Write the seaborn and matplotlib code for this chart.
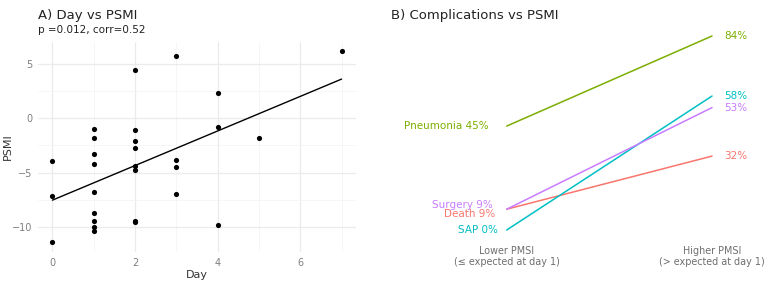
import numpy as np
import pandas as pd
import matplotlib
matplotlib.use("Agg")
import matplotlib.pyplot as plt
import seaborn as sns

# ---- Panel A data ----
day = [0, 0, 0,
       1, 1, 1, 1, 1, 1, 1, 1, 1,
       2, 2, 2, 2, 2, 2, 2, 2,
       3, 3, 3, 3,
       4, 4, 4,
       5, 7]
psmi = [-3.9, -7.15, -11.45,
        -1.0, -1.8, -3.3, -4.2, -6.8, -8.75, -9.5, -10.0, -10.4,
        4.45, -1.08, -2.1, -2.77, -4.4, -4.77, -9.5, -9.6,
        5.75, -3.85, -4.52, -6.96,
        2.33, -0.82, -9.82,
        -1.79, 6.2]

# ---- Panel B data ----
groups = ["Death", "Pneumonia", "SAP", "Surgery"]
lower_pct = [9, 45, 0, 9]
higher_pct = [32, 84, 58, 53]
group_labels = ["Lower PMSI\n(\u2264 expected at day 1)", "Higher PMSI\n(> expected at day 1)"]
colors = ["#F8766D", "#7CAE00", "#00BFC4", "#C77CFF"]

sns.set_theme(style="whitegrid")
plt.rcParams["font.family"] = ["DejaVu Sans"]

W, H = 773, 283
fig = plt.figure(figsize=(W / 100, H / 100), dpi=100)

def fr(left, top, right, bottom):
    return [left / W, 1 - bottom / H, (right - left) / W, (bottom - top) / H]

# ---------------- Panel A ----------------
ax1 = fig.add_axes(fr(38, 41.6, 356, 252))
dfA = pd.DataFrame({"Day": day, "PSMI": psmi})
sns.regplot(data=dfA, x="Day", y="PSMI", ci=None, ax=ax1,
            scatter_kws=dict(s=14, color="black", alpha=1, linewidths=0),
            line_kws=dict(color="black", lw=1.0))
ax1.set_xlim(-0.35, 7.35)
ax1.set_ylim(-12.33, 7.08)
ax1.set_xticks([0, 2, 4, 6])
ax1.set_yticks([-10, -5, 0, 5])
ax1.set_xticks([1, 3, 5, 7], minor=True)
ax1.set_yticks([-7.5, -2.5, 2.5], minor=True)
ax1.grid(which="major", color="#EBEBEB", lw=0.9)
ax1.grid(which="minor", color="#F3F3F3", lw=0.5)
ax1.set_facecolor("white")
for s in ax1.spines.values():
    s.set_visible(False)
ax1.tick_params(axis="both", which="both", length=0, labelsize=7, labelcolor="#7F7F7F", pad=4)
ax1.set_yticklabels(["\u221210", "\u22125", "0", "5"])
ax1.set_xlabel("Day", fontsize=8, color="#333333", labelpad=2)
ax1.set_ylabel("PSMI", fontsize=8, color="#333333")
ax1.yaxis.set_label_coords((13 - 38) / 318, 0.5)
fig.text(38 / W, 1 - 19 / H, "A) Day vs PSMI", fontsize=9.5, color="#222222", ha="left", va="baseline")
fig.text(38 / W, 1 - 33 / H, "p =0.012, corr=0.52", fontsize=7.5, color="#222222", ha="left", va="baseline")

# ---------------- Panel B ----------------
ax2 = fig.add_axes(fr(400, 30, 765, 240))
dfB = pd.DataFrame({
    "group": groups * 2,
    "pos": [1] * len(groups) + [2] * len(groups),
    "pct": lower_pct + higher_pct,
})
sns.lineplot(data=dfB, x="pos", y="pct", hue="group", palette=dict(zip(groups, colors)),
             ax=ax2, lw=1.1, legend=False)
ax2.set_xlim(0.4804, 2.258)
ax2.set_ylim(-4.33, 86.6)
ax2.set_xticks([1, 2])
ax2.set_xticklabels(group_labels)
ax2.set_yticks([])
ax2.grid(False)
for s in ax2.spines.values():
    s.set_visible(False)
ax2.tick_params(axis="x", length=0, labelsize=6.9, labelcolor="#6E6E6E", pad=4)
ax2.set_xlabel("")
ax2.set_ylabel("")

nudge = {"Death": (-0.055, -2.1), "Pneumonia": (-0.09, 0), "SAP": (-0.045, 0), "Surgery": (-0.068, 1.8)}
for g, lo, hi, c in zip(groups, lower_pct, higher_pct, colors):
    dx, dy = nudge[g]
    ax2.text(1 + dx, lo + dy, f"{g} {lo}%", color=c, fontsize=7.5, ha="right", va="center")
    ax2.text(2 + 0.06, hi, f"{hi}%", color=c, fontsize=7.5, ha="left", va="center")

fig.text(391 / W, 1 - 19 / H, "B) Complications vs PSMI", fontsize=9.5, color="#222222", ha="left", va="baseline")

fig.savefig("out.png", dpi=100)
